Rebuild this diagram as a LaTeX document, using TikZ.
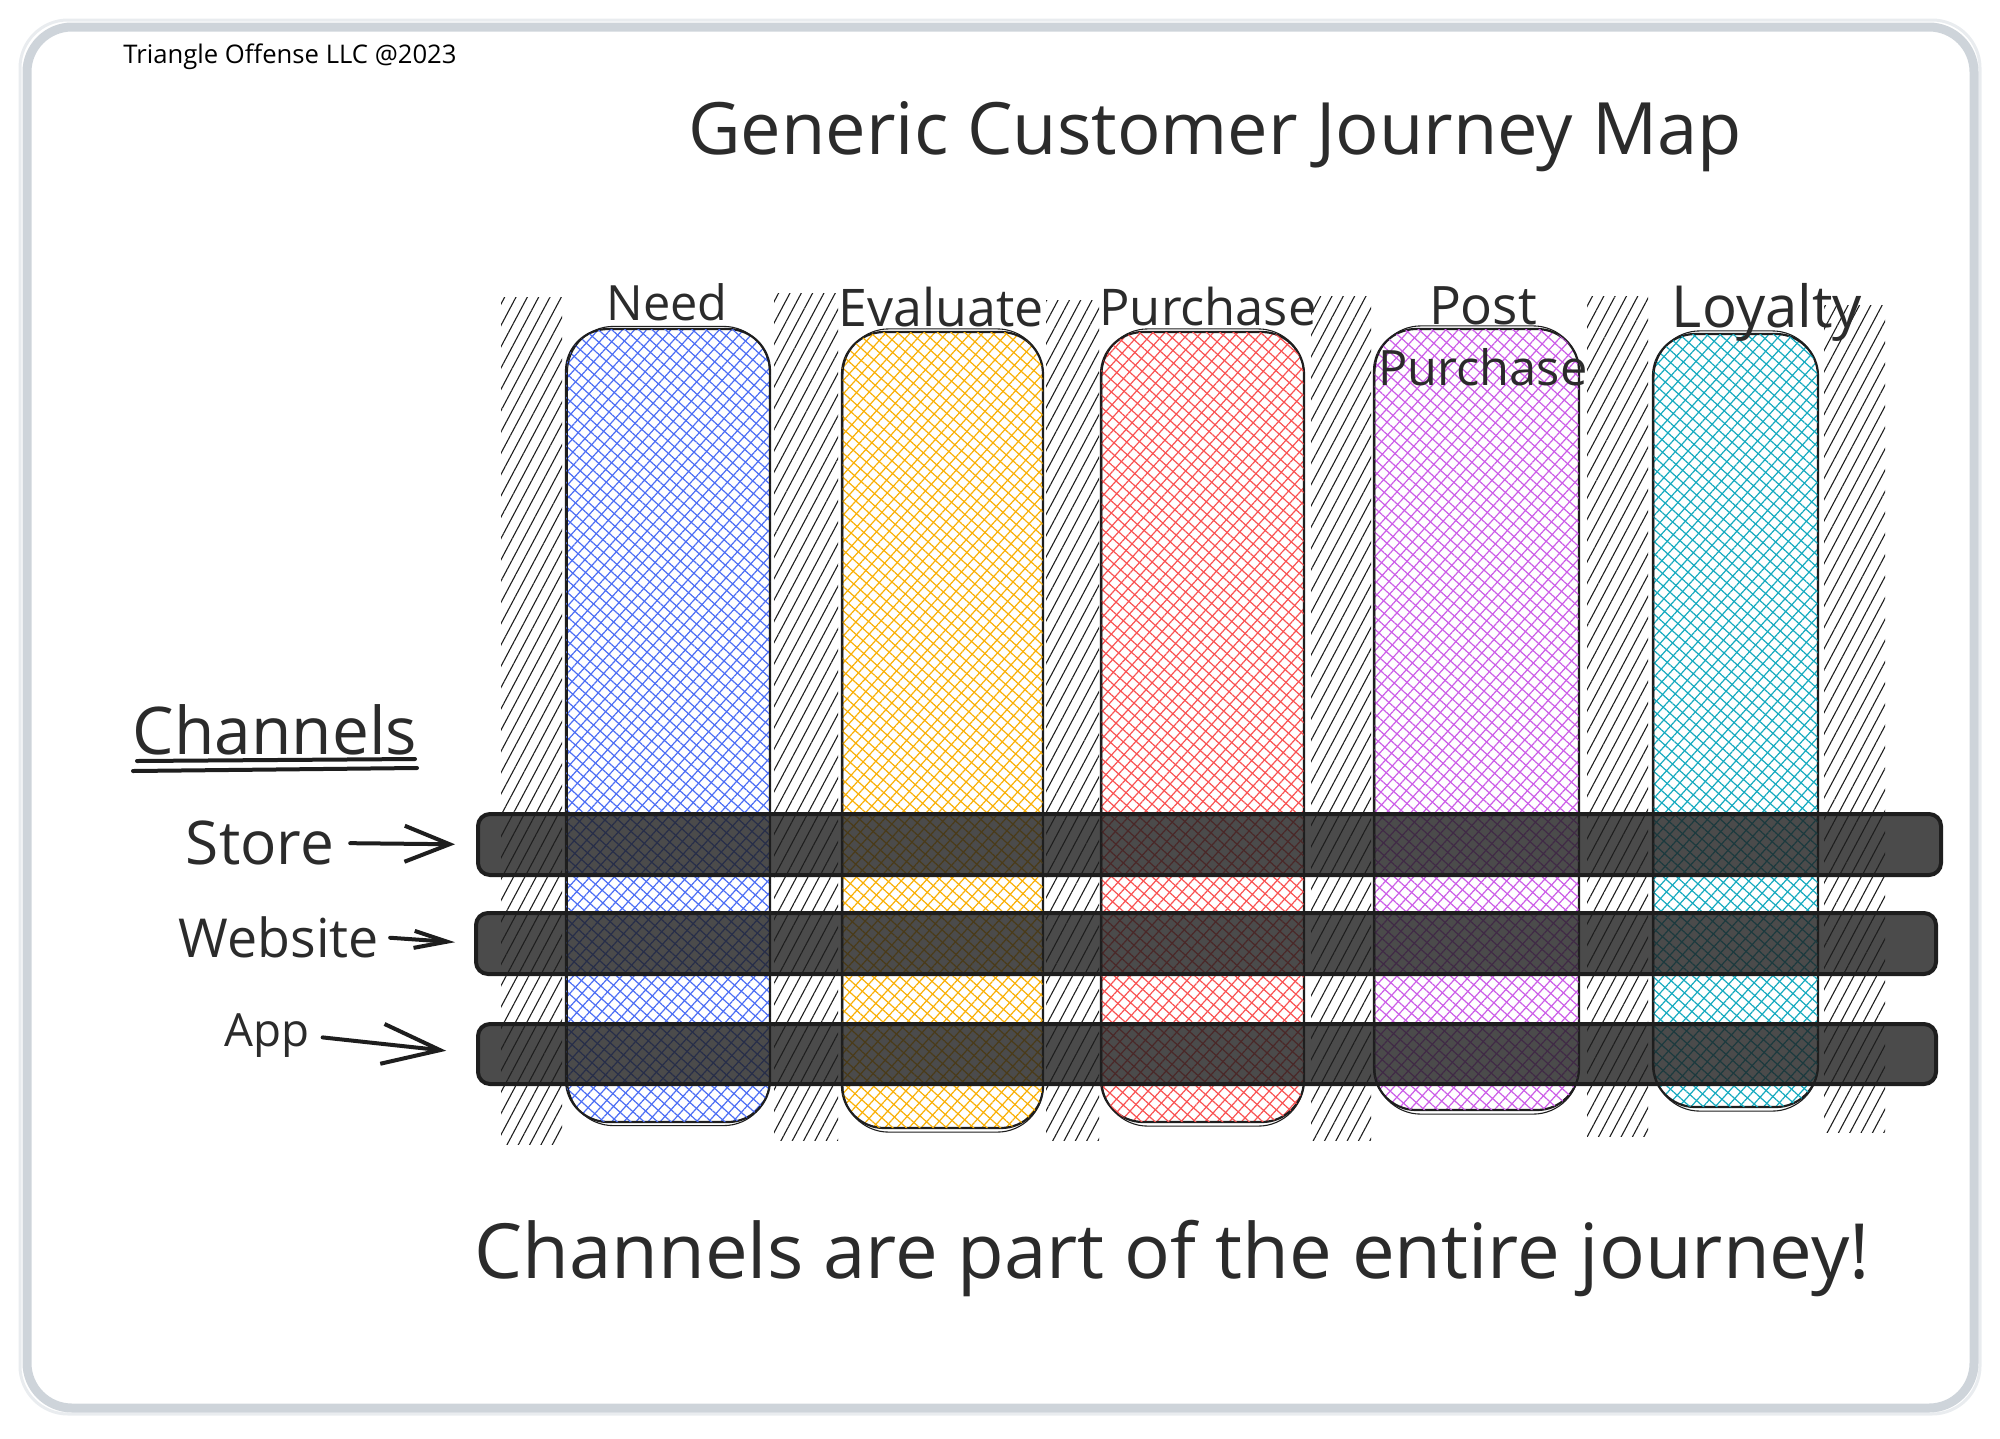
\documentclass[tikz,border=0pt]{standalone}
\usepackage{fontspec}
\setmainfont{Open Sans}
\usetikzlibrary{patterns.meta,arrows.meta}
\definecolor{ink}{HTML}{1E1E1E}
\definecolor{txt}{HTML}{2B2B2B}
\definecolor{framec}{HTML}{CED4DA}
\definecolor{framelt}{HTML}{E9ECEF}
\definecolor{cblue}{HTML}{4C6EF5}
\definecolor{cyellow}{HTML}{FAB005}
\definecolor{cred}{HTML}{FA5252}
\definecolor{cgrape}{HTML}{CC5DE8}
\definecolor{ccyan}{HTML}{15AABF}
\newcommand{\fitw}[2]{\resizebox{#1}{!}{#2}}
\tikzset{
  hatchstrip/.style={pattern={Lines[angle=62,distance=10pt,line width=1.1pt]}, pattern color=ink},
  colbox/.style={rectangle, rounded corners=42, draw=ink, line width=2.2, inner sep=0,
    preaction={fill=white},
    pattern={Lines[angle=48,distance=9pt,line width=1.2pt]}, pattern color=#1,
    postaction={pattern={Lines[angle=-42,distance=9pt,line width=1.2pt]}, pattern color=#1}},
  colsketch/.style={draw=ink, line width=1.1, rounded corners=46},
  chanbar/.style={rectangle, rounded corners=12, draw=ink, line width=4, fill=ink, fill opacity=0.8, inner sep=0},
  lbl/.style={text=txt, inner sep=0, anchor=center},
  chanarrow/.style={draw=ink, line width=4, line cap=round},
}
\begin{document}
\begin{tikzpicture}[x=1pt,y=-1pt]
\useasboundingbox (0,0) rectangle (2000,1438);
% frame
\draw[framelt, line width=3, rounded corners=48] (20,20) rectangle (1980,1414);
\draw[framec, line width=9, rounded corners=45] (27,27) rectangle (1974,1408);
% copyright
\node[lbl, text=black] (copy) at (290,57) {\fitw{333pt}{Triangle Offense LLC @2023}};
% title
\node[lbl] (title) at (1215,137) {\fitw{1053pt}{Generic Customer Journey Map}};
% hatch strips
\path[hatchstrip] (501,297) rectangle (562,1144);
\path[hatchstrip] (774,293) rectangle (838,1140);
\path[hatchstrip] (1046,300) rectangle (1099,1140);
\path[hatchstrip] (1311,296) rectangle (1371,1140);
\path[hatchstrip] (1587,296) rectangle (1648,1136);
\path[hatchstrip] (1824,305) rectangle (1885,1132);
% columns
\node[colbox=cblue, minimum width=204, minimum height=793] (need) at (668,725.5) {};
\node[colbox=cyellow, minimum width=201, minimum height=796] (eval) at (942.5,730) {};
\node[colbox=cred, minimum width=203, minimum height=790] (purch) at (1202.5,727) {};
\node[colbox=cgrape, minimum width=205, minimum height=781] (post) at (1476.5,719.5) {};
\node[colbox=ccyan, minimum width=165, minimum height=773] (loyal) at (1735.5,720.5) {};
\foreach \c in {need,eval,purch,post,loyal}{
  \draw[colsketch] ([shift={(2,-2)}]\c.north west) rectangle ([shift={(-1,3)}]\c.south east);
}
% column labels
\node[lbl] (needl) at (667,302) {\fitw{121pt}{Need}};
\node[lbl] (evall) at (941,307) {\fitw{205pt}{Evaluate}};
\node[lbl] (purchl) at (1208,307) {\fitw{217pt}{Purchase}};
\node[lbl] (postl) at (1483,306) {\fitw{108pt}{Post}};
\node[lbl] (postl2) at (1483,367) {\fitw{209pt}{Purchase}};
\node[lbl] (loyall) at (1767,312) {\fitw{190pt}{Loyalty}};
% channels heading
\node[lbl] (chan) at (275,730) {\fitw{284pt}{Channels}};
\draw[ink, line width=4, line cap=round] (137,761) -- (415,759);
\draw[ink, line width=4, line cap=round] (133,771) -- (417,768);
% channel labels
\node[lbl] (store) at (260,843) {\fitw{148pt}{Store}};
\node[lbl] (web) at (279,937) {\fitw{200pt}{Website}};
\node[lbl] (app) at (267,1036) {\fitw{85pt}{App}};
% bars
\node[chanbar, minimum width=1463, minimum height=61] (storebar) at (1209.5,844.5) {};
\node[chanbar, minimum width=1460, minimum height=61] (webbar) at (1206,943.5) {};
\node[chanbar, minimum width=1458, minimum height=60] (appbar) at (1207,1054) {};
% arrows
\draw[chanarrow, shorten <=16pt, shorten >=21pt, -{Straight Barb[length=45pt,width=36pt,line width=4pt]}] (store.east) -- (storebar.west);
\draw[chanarrow, shorten <=11pt, shorten >=19pt, -{Straight Barb[length=33pt,width=17pt,line width=4pt]}] (web.east) -- (webbar.west);
\draw[chanarrow, shorten <=13pt, shorten >=30pt, -{Straight Barb[length=58pt,width=40pt,line width=4pt]}] (app.east) -- (appbar.west);
% bottom text
\node[lbl] (bottom) at (1172,1258) {\fitw{1395pt}{Channels are part of the entire journey!}};
\end{tikzpicture}
\end{document}
